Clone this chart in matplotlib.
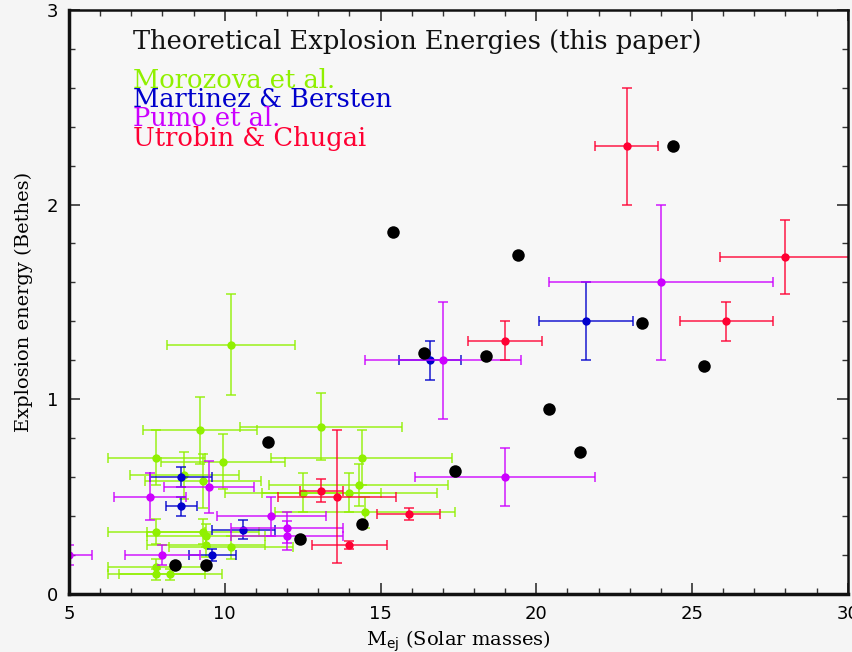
import matplotlib
matplotlib.use('Agg')
import matplotlib.pyplot as plt
from matplotlib.ticker import MultipleLocator

# this paper (black dots, no errors)
bx = [8.4, 9.4, 11.4, 12.4, 14.4, 15.4, 16.4, 17.4, 18.4, 19.4, 20.4, 21.4, 23.4, 24.4, 25.4]
by = [0.15, 0.15, 0.78, 0.28, 0.36, 1.86, 1.24, 0.63, 1.22, 1.74, 0.95, 0.73, 1.39, 2.30, 1.17]

# Morozova et al.
mx = [10.2, 9.2, 13.1, 7.8, 9.95, 14.4, 8.7, 9.3, 14.3, 12.5, 14.0, 14.5, 7.8, 9.3, 9.4, 9.4, 10.2, 7.8, 7.8, 8.25]
my = [1.28, 0.84, 0.86, 0.70, 0.68, 0.70, 0.61, 0.58, 0.56, 0.52, 0.52, 0.42, 0.32, 0.32, 0.30, 0.25, 0.24, 0.14, 0.10, 0.10]
mxe = [2.05, 1.82, 2.6, 1.56, 2.0, 2.9, 1.75, 1.85, 2.87, 2.5, 2.8, 2.9, 1.56, 1.8, 1.9, 1.9, 2.0, 1.56, 1.56, 1.65]
mye = [0.26, 0.17, 0.17, 0.14, 0.14, 0.14, 0.12, 0.14, 0.11, 0.10, 0.10, 0.08, 0.065, 0.065, 0.06, 0.06, 0.06, 0.04, 0.03, 0.03]

# Martinez & Bersten
ax_ = [21.6, 16.6, 8.6, 8.6, 10.6, 9.6]
ay = [1.40, 1.20, 0.60, 0.45, 0.33, 0.20]
axe = [1.5, 1.0, 1.0, 0.5, 1.0, 0.75]
aye = [0.2, 0.1, 0.05, 0.05, 0.05, 0.03]

# Pumo et al.
px = [24.0, 17.0, 19.0, 11.5, 12.0, 12.0, 7.6, 9.5, 5.0, 8.0]
py = [1.60, 1.20, 0.60, 0.40, 0.34, 0.30, 0.50, 0.55, 0.20, 0.20]
pxe = [3.6, 2.5, 2.9, 1.75, 1.8, 1.8, 1.15, 1.45, 0.75, 1.2]
pye = [0.4, 0.3, 0.15, 0.1, 0.08, 0.075, 0.12, 0.135, 0.05, 0.05]

# Utrobin & Chugai
ux = [22.9, 28.0, 26.1, 19.0, 13.1, 13.6, 15.9, 14.0]
uy = [2.30, 1.73, 1.40, 1.30, 0.53, 0.50, 0.41, 0.25]
uxe = [1.0, 2.1, 1.5, 1.2, 0.7, 1.9, 1.0, 1.2]
uye = [0.3, 0.19, 0.1, 0.1, 0.06, 0.34, 0.03, 0.02]

green = '#90f000'
blue = '#0000cc'
magenta = '#cc00ff'
red = '#ff0033'

serif = 'DejaVu Serif'

fig = plt.figure(figsize=(8.52, 6.52), dpi=100, facecolor='#f5f5f5')
ax = fig.add_axes([0.081, 0.089, 0.914, 0.896])
ax.set_facecolor('#f7f7f7')

sets = [(mx, my, mxe, mye, green),
        (ax_, ay, axe, aye, blue),
        (px, py, pxe, pye, magenta),
        (ux, uy, uxe, uye, red)]
for x, y, xe, ye, c in sets:
    ax.errorbar(x, y, xerr=xe, yerr=ye, fmt='none', ecolor=c, alpha=0.7,
                elinewidth=1.4, capsize=3.6, capthick=1.4)
    ax.plot(x, y, 'o', color=c, ms=6, mec='none')

ax.plot(bx, by, 'o', color='black', ms=9, mec='none')

ax.set_xlim(5, 30)
ax.set_ylim(0, 3)
ax.xaxis.set_major_locator(MultipleLocator(5))
ax.xaxis.set_minor_locator(MultipleLocator(1))
ax.yaxis.set_major_locator(MultipleLocator(1))
ax.yaxis.set_minor_locator(MultipleLocator(0.2))
ax.tick_params(which='both', direction='in', top=True, right=True, color='#333333')
ax.tick_params(which='major', length=8, width=1.2, pad=8)
ax.tick_params(which='minor', length=4, width=1.0)
for lab in ax.get_xticklabels() + ax.get_yticklabels():
    lab.set_family(['Liberation Sans Narrow', 'DejaVu Sans'])
    lab.set_fontsize(13)
for s in ax.spines.values():
    s.set_linewidth(1.8)
    s.set_color('#111111')
ax.spines['left'].set_linewidth(2.5)
ax.spines['bottom'].set_linewidth(2.5)

ax.set_xlabel(r'M$_{\rm ej}$ (Solar masses)', family=serif, fontsize=14, labelpad=4)
ax.set_ylabel('Explosion energy (Bethes)', family=serif, fontsize=14, labelpad=10)

# header and coloured key, lines sit close like in the paper figure
tx = 0.082
fs = 18.5
ax.text(tx, 0.933, 'Theoretical Explosion Energies (this paper)', transform=ax.transAxes,
        family=serif, fontsize=fs, color='#111111', va='baseline')
ax.text(tx, 0.866, 'Morozova et al.', transform=ax.transAxes, family=serif, fontsize=fs, color=green, va='baseline')
ax.text(tx, 0.834, 'Martinez & Bersten', transform=ax.transAxes, family=serif, fontsize=fs, color=blue, va='baseline')
ax.text(tx, 0.801, 'Pumo et al.', transform=ax.transAxes, family=serif, fontsize=fs, color=magenta, va='baseline')
ax.text(tx, 0.767, 'Utrobin & Chugai', transform=ax.transAxes, family=serif, fontsize=fs, color=red, va='baseline')

fig.savefig('out.png', dpi=100, facecolor=fig.get_facecolor())
